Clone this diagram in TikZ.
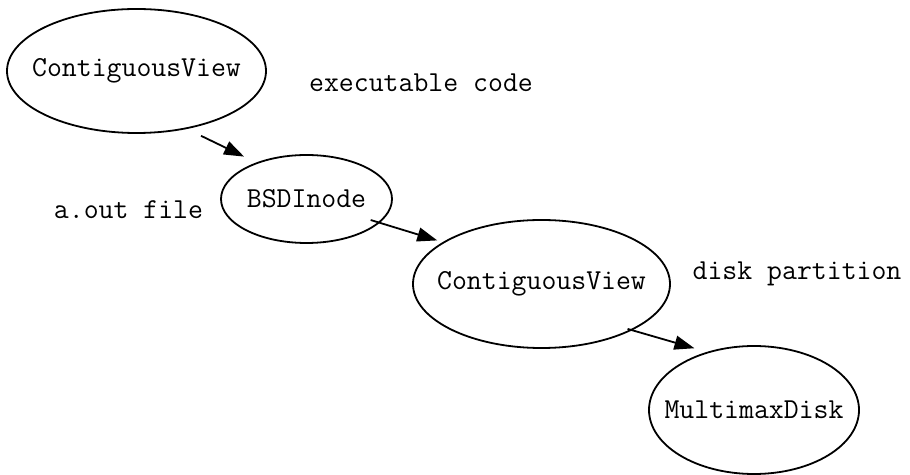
\documentclass[tikz,border=0pt]{standalone}
\usepackage{tikz}
\usetikzlibrary{shapes.geometric,arrows.meta}

\tikzset{
  blob/.style={draw, ellipse, line width=0.9pt, inner sep=0pt},
  arr/.style={-{Triangle[length=10pt,width=7pt]}, line width=0.9pt},
}

\begin{document}
\begin{tikzpicture}[x=0.5pt,y=-0.5pt,
    every node/.style={font=\ttfamily\fontsize{14.48}{17}\selectfont}]
\useasboundingbox (0,0) rectangle (910,475);
% zero-width labels so the ellipse keeps the size given here
\node[blob, minimum width=129.5pt, minimum height=62pt] (cv1) at (136.5,71) {\makebox[0pt]{ContiguousView}};
    \node[blob, minimum width=85.5pt, minimum height=44pt] (bsd) at (306.5,199) {\makebox[0pt]{BSDInode}};
    \node[blob, minimum width=128.5pt, minimum height=64pt] (cv2) at (541.5,284) {\makebox[0pt]{ContiguousView}};
    \node[blob, minimum width=105pt, minimum height=64pt] (disk) at (754,410) {\makebox[0pt]{MultimaxDisk}};

    \node[] (exe) at (421,83) {executable code};
    \node[] (aout) at (128.5,210) {a.out file};
    \node[] (part) at (797,274) {disk partition};

    \path[arr, shorten <=7.85pt, shorten >=6.75pt] (cv1.311.5) edge (bsd.144);
    \path[arr, shorten <=-4.75pt, shorten >=2.85pt] (bsd.342.4) edge (cv2.157.2);
    \path[arr, shorten <=-2.45pt, shorten >=6.5pt] (cv2.333.3) edge (disk.129.8);
\end{tikzpicture}
\end{document}
